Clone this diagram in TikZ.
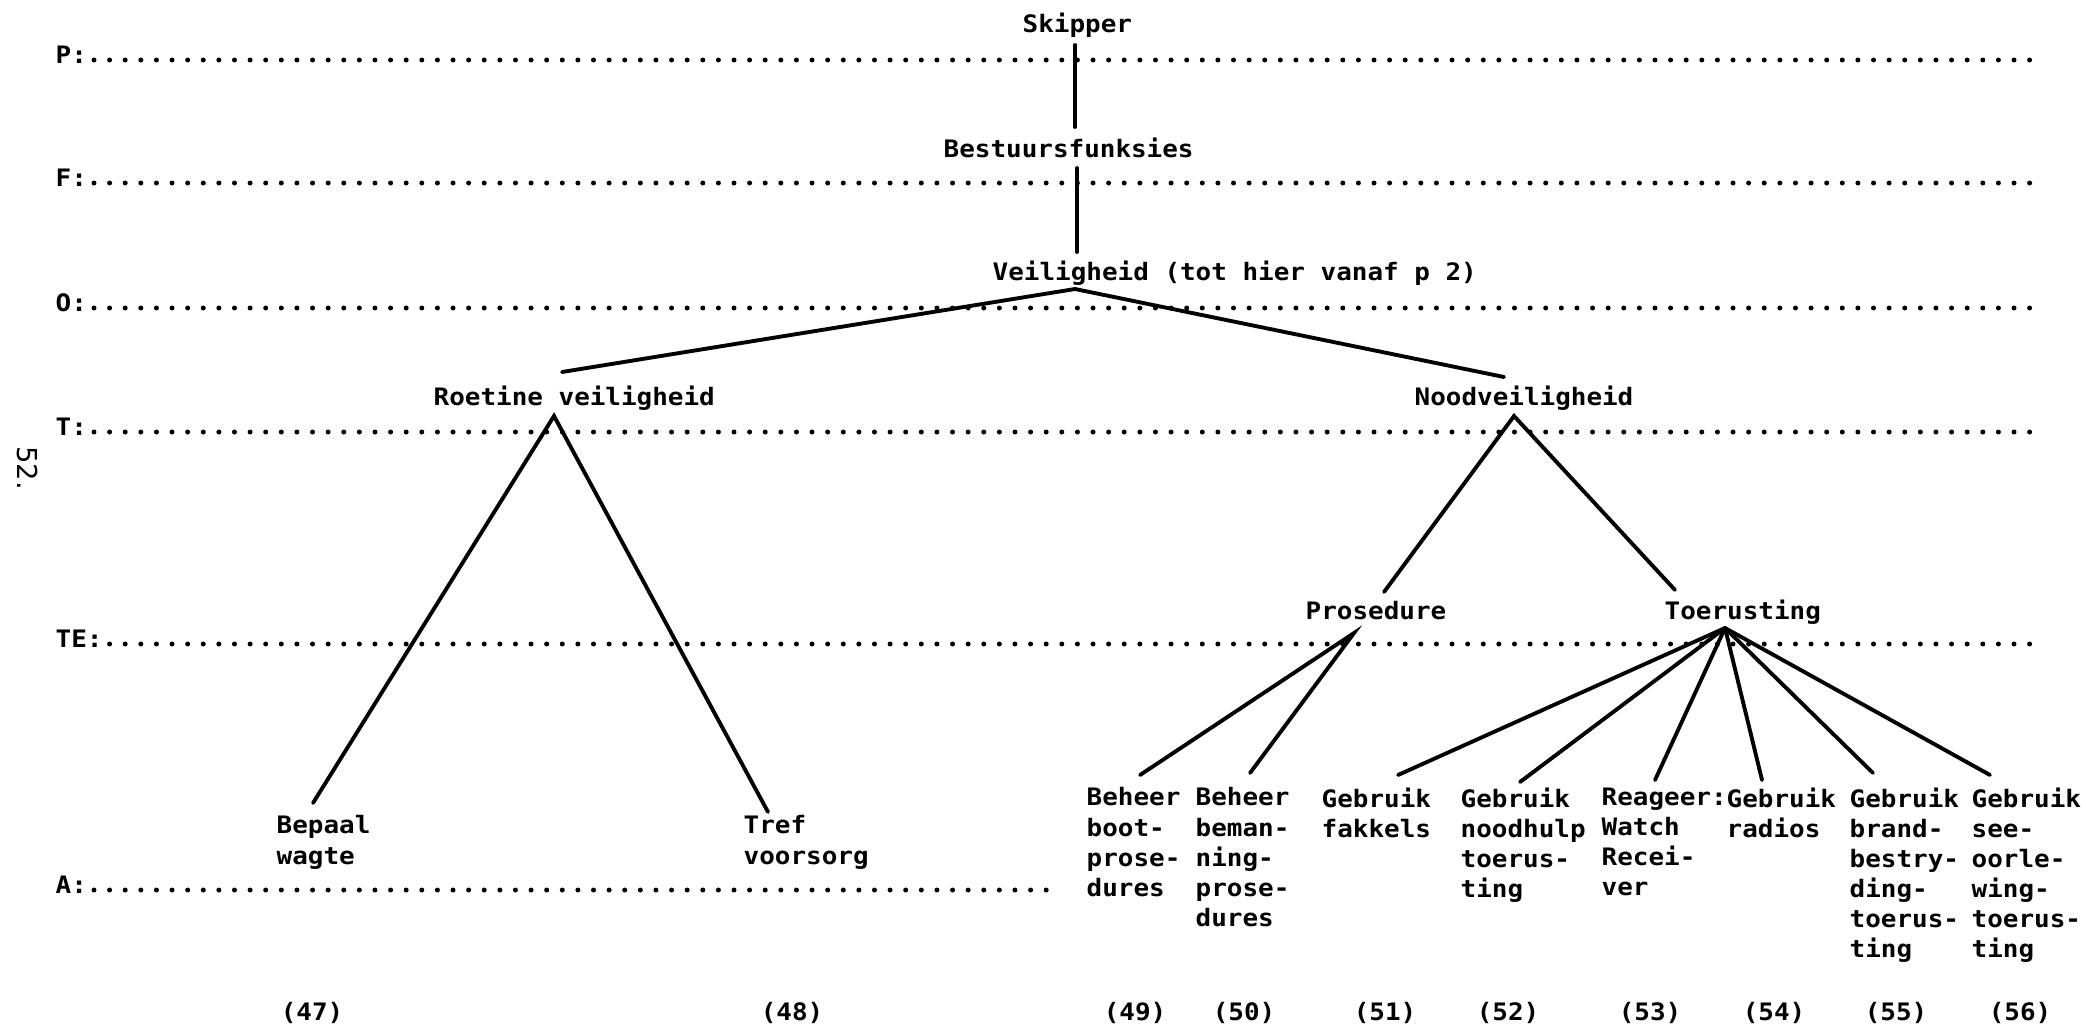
\documentclass[tikz,border=0pt]{standalone}
\usepackage{fontspec}
\newfontfamily\tw[FakeStretch=1.08]{DejaVu Sans Mono}
\newfontfamily\pagefont{DejaVu Sans}
\begin{document}
\begin{tikzpicture}[x=0.01cm,y=-0.01cm,
  txt/.style={font={\tw\bfseries\fontsize{6.83}{8.55}\selectfont}, inner sep=0pt, anchor=base west},
  % multi-line texts hang from their top edge (first baseline 18px lower)
  leaf/.style={txt, align=left, anchor=north west},
  num/.style={txt, anchor=base},
  dotrow/.style={line width=1.42pt, line cap=round, dash pattern=on 0pt off 0.156cm},
  branch/.style={line width=1.1pt, line cap=round}]

\useasboundingbox (0,0) rectangle (2086,1030);

% level labels and dotted rows
\node[txt] (lp)  at (55,63)  {P:};
\node[txt] (lf)  at (55,186) {F:};
\node[txt] (lo)  at (55,311) {O:};
\node[txt] (lt)  at (55,435) {T:};
\node[txt] (lte) at (55,647) {TE:};
\node[txt] (la)  at (55,893) {A:};
\draw[dotrow] (94,60)  -- (2032,60);
\draw[dotrow] (94,183) -- (2032,183);
\draw[dotrow] (94,308) -- (2032,308);
\draw[dotrow] (94,432) -- (2032,432);
\draw[dotrow] (109.6,644) -- (2032,644);
\draw[dotrow] (94,890) -- (1050,890);

% page number
\node[font={\pagefont\fontsize{7.8}{9}\selectfont}, rotate=-90, inner sep=0pt] (pageno) at (27,468) {52.};

% upper levels
\node[txt] (skipper) at (1022,32)  {Skipper};
\node[txt] (bestuur) at (943,157)  {Bestuursfunksies};
\node[txt] (veilig)  at (992,280)  {Veiligheid (tot hier vanaf p 2)};
\node[txt] (roetine) at (433,405)  {Roetine veiligheid};
\node[txt] (nood)    at (1414,405) {Noodveiligheid};
\node[txt] (prosed)  at (1305,619) {Prosedure};
\node[txt] (toerus)  at (1664,619) {Toerusting};

% actions
\node[leaf] (a47) at (276,815)  {Bepaal\\wagte};
\node[leaf] (a48) at (743,815)  {Tref\\voorsorg};
\node[leaf] (a49) at (1086,787) {Beheer\\boot-\\prose-\\dures};
\node[leaf] (a50) at (1195,787) {Beheer\\beman-\\ning-\\prose-\\dures};
\node[leaf] (a51) at (1321,787) {Gebruik\\fakkels};
\node[leaf] (a52) at (1460,787) {Gebruik\\noodhulp\\toerus-\\ting};
\node[leaf] (a53) at (1601,787) {Reageer:\\Watch\\Recei-\\ver};
\node[leaf] (a54) at (1726,787) {Gebruik\\radios};
\node[leaf] (a55) at (1849,787) {Gebruik\\brand-\\bestry-\\ding-\\toerus-\\ting};
\node[leaf] (a56) at (1971,787) {Gebruik\\see-\\oorle-\\wing-\\toerus-\\ting};

% action numbers
\node[num] (n47) at (312,1020)  {(47)};
\node[num] (n48) at (792,1020)  {(48)};
\node[num] (n49) at (1135,1020) {(49)};
\node[num] (n50) at (1244,1020) {(50)};
\node[num] (n51) at (1385,1020) {(51)};
\node[num] (n52) at (1508,1020) {(52)};
\node[num] (n53) at (1650,1020) {(53)};
\node[num] (n54) at (1774,1020) {(54)};
\node[num] (n55) at (1896,1020) {(55)};
\node[num] (n56) at (2020,1020) {(56)};

% attachment points
\coordinate (skipper-b) at (1075,45);
\coordinate (bestuur-t) at (1075,127);
\coordinate (bestuur-b) at (1077,168);
\coordinate (veilig-t)  at (1077,252);
\coordinate (veilig-b)  at (1075,289);
\coordinate (roetine-t) at (562,372);
\coordinate (roetine-b) at (554,416);
\coordinate (nood-t)    at (1504,377);
\coordinate (nood-b)    at (1514,416);
\coordinate (prosed-t)  at (1384,592);
\coordinate (prosed-b)  at (1354,633);
\coordinate (toerus-t)  at (1675,590);
\coordinate (toerus-b)  at (1725,628);
\coordinate (a47-t) at (313,803);
\coordinate (a48-t) at (768,812);
\coordinate (a49-t) at (1140,775);
\coordinate (a50-t) at (1250,773);
\coordinate (a51-t) at (1398,775);
\coordinate (a52-t) at (1520,782);
\coordinate (a53-t) at (1655,780);
\coordinate (a54-t) at (1762,780);
\coordinate (a55-t) at (1873,773);
\coordinate (a56-t) at (1990,775);

% tree connectors
\draw[branch] (skipper-b) -- (bestuur-t);
\draw[branch] (bestuur-b) -- (veilig-t);
\draw[branch] (roetine-t) -- (veilig-b) -- (nood-t);
\draw[branch] (a47-t) -- (roetine-b) -- (a48-t);
\draw[branch] (prosed-t) -- (nood-b) -- (toerus-t);
\draw[branch] (a49-t) -- (prosed-b) -- (a50-t);
\foreach \k in {51,...,56} \draw[branch] (toerus-b) -- (a\k-t);
\end{tikzpicture}
\end{document}
